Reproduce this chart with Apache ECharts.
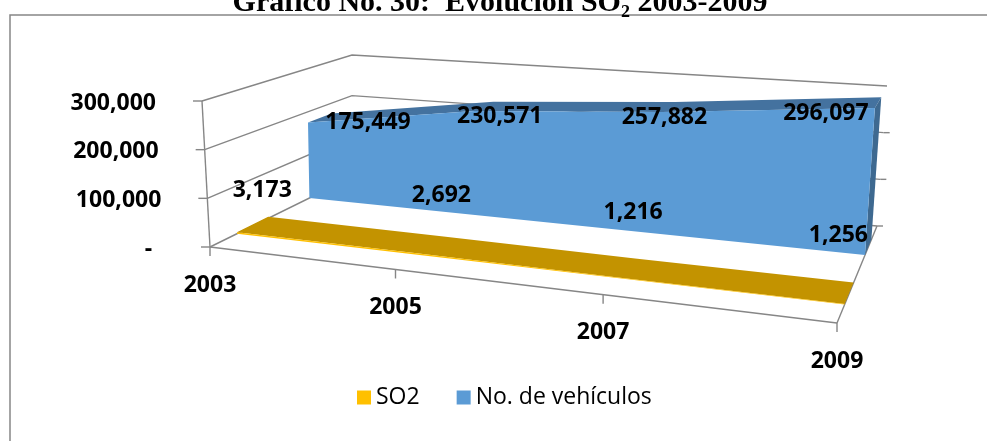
<!DOCTYPE html>
<html>
<head>
<meta charset="utf-8">
<script src="https://cdn.jsdelivr.net/npm/echarts@6/dist/echarts.min.js"></script>
<style>
html, body { margin: 0; padding: 0; background: #fff; }
#chart { width: 987px; height: 441px; }
</style>
</head>
<body>
<div id="chart"></div>
<script>
const years = ['2003', '2005', '2007', '2009'];
const so2 = [3173, 2692, 1216, 1256];
const vehiculos = [175449, 230571, 257882, 296097];
const yTicks = [0, 100000, 200000, 300000];

// screen corners of the 3d box, key = x y z (0 = left/bottom/front)
const box = {
  '000': [210, 247], '100': [837, 323], '001': [352, 177], '101': [877, 226],
  '010': [202, 101], '110': [847, 153], '011': [352, 55], '111': [887, 86]
};
const persp = 1.19;
const gridColor = '#868686';
const numFont = 'bold 23px "Open Sans"';

// depth rows of the two series
const rowSO2 = [0.19, 0.41];
const rowVeh = [0.70, 0.86];
// excel puts its 3d labels a bit off the points
const nudgeSO2 = [[-6, -28], [0, -42], [-2, -47], [-15, -48]];
const nudgeVeh = [[60, 0], [25, 5], [2, 5], [-49, 5]];

function lerp(a, b, k) {
  return [a[0] + (b[0] - a[0]) * k, a[1] + (b[1] - a[1]) * k];
}

function project(u, v, z) {
  const t = u / (u + persp * (1 - u));
  const f = lerp(lerp(box['000'], box['100'], t), lerp(box['010'], box['110'], t), v);
  const b = lerp(lerp(box['001'], box['101'], t), lerp(box['011'], box['111'], t), v);
  return lerp(f, b, z);
}

// data value -> hidden cartesian pixel -> point in the 3d box
function pt(api, params, cat, val, z) {
  const p = api.coord([cat, val]);
  const cs = params.coordSys;
  const u = (p[0] - cs.x) / cs.width;
  const v = (cs.y + cs.height - p[1]) / cs.height;
  return project(u, v, z);
}

function line(a, b, w) {
  return { type: 'line', shape: { x1: a[0], y1: a[1], x2: b[0], y2: b[1] },
    style: { stroke: gridColor, lineWidth: w || 1.4 } };
}

function areaRenderer(values, row, front, top, side, nudge) {
  return function (params, api) {
    const i = params.dataIndex;
    const last = values.length - 1;
    const v = api.value(1);
    const kids = [];
    if (i === 0) {
      const frontPts = [pt(api, params, 0, 0, row[0])];
      const topFront = [], topBack = [];
      values.forEach((w, k) => {
        topFront.push(pt(api, params, k, w, row[0]));
        topBack.unshift(pt(api, params, k, w, row[1]));
      });
      frontPts.push(...topFront, pt(api, params, last, 0, row[0]));
      kids.push({ type: 'polygon', z2: 1, shape: { points: topFront.concat(topBack) },
        style: { fill: top } });
      kids.push({ type: 'polygon', z2: 3, shape: { points: frontPts },
        style: { fill: front } });
    }
    if (i === last) {
      const c0 = pt(api, params, i, 0, row[0]), c1 = pt(api, params, i, v, row[0]);
      const d0 = pt(api, params, i, 0, row[1]), d1 = pt(api, params, i, v, row[1]);
      kids.push({ type: 'polygon', z2: 2, shape: { points: [c0, c1, d1, d0] },
        style: { fill: side } });
    }
    const anchor = row === rowSO2 ? pt(api, params, i, 0, row[1]) : pt(api, params, i, v, row[0]);
    kids.push({ type: 'text', z2: 50, x: anchor[0] + nudge[i][0], y: anchor[1] + nudge[i][1],
      style: { text: v.toLocaleString('en-US'), font: numFont, fill: '#000',
        align: 'center', verticalAlign: 'middle' } });
    return { type: 'group', children: kids };
  };
}

const chart = echarts.init(document.getElementById('chart'));

chart.setOption({
  animation: false,
  grid: { left: 0, top: 0, width: 300, height: 300, show: false },
  xAxis: { type: 'category', data: years, boundaryGap: false, show: false },
  yAxis: { type: 'value', min: 0, max: 300000, interval: 100000, show: false },
  legend: {
    data: ['SO2', 'No. de vehículos'],
    left: 357, top: 386, padding: 0,
    icon: 'rect', itemWidth: 14, itemHeight: 14, itemGap: 37,
    textStyle: { fontFamily: 'Open Sans', fontSize: 23, color: '#000' }
  },
  graphic: [
    { type: 'rect', z: 0, shape: { x: 10, y: 15, width: 1000, height: 500 },
      style: { fill: null, stroke: '#868686', lineWidth: 1.5 } },
    { type: 'text', x: 500, y: 18,
      style: { text: 'Gráfico No. 30:  Evolución SO₂ 2003-2009',
        font: 'bold 30px "Liberation Serif"', fill: '#000',
        align: 'center', verticalAlign: 'bottom' } }
  ],
  series: [
    {
      type: 'custom', name: 'walls', z: 1, silent: true, clip: false,
      data: yTicks.map(v => [0, v]),
      renderItem: function (params, api) {
        const v = api.value(1);
        const last = years.length - 1;
        const kids = [];
        const f = pt(api, params, 0, v, 0);
        const bl = pt(api, params, 0, v, 1);
        const br = pt(api, params, last, v, 1);
        kids.push({ type: 'polyline', shape: { points: [f, bl, br] },
          style: { stroke: gridColor, lineWidth: 1.4, fill: null } });
        kids.push(line([f[0] - 9, f[1]], f));
        if (v < yTicks[yTicks.length - 1]) kids.push(line(br, [br[0] + 6, br[1]]));
        kids.push({ type: 'text', x: f[0] - 46, y: f[1] + 2,
          style: { text: v === 0 ? '-  ' : v.toLocaleString('en-US'), font: numFont,
            fill: '#000', align: 'right', verticalAlign: 'middle' } });
        if (params.dataIndex === 0) {
          const top = yTicks[yTicks.length - 1];
          kids.push(line(pt(api, params, 0, 0, 0), pt(api, params, 0, top, 0)));
          kids.push(line(pt(api, params, 0, 0, 0), pt(api, params, last, 0, 0)));
          kids.push(line(pt(api, params, last, 0, 0), pt(api, params, last, 0, 1)));
        }
        return { type: 'group', children: kids };
      }
    },
    {
      type: 'custom', name: 'years', z: 1, silent: true, clip: false,
      data: years.map((y, i) => [i, 0]),
      renderItem: function (params, api) {
        const i = params.dataIndex;
        const p = pt(api, params, i, 0, 0);
        return { type: 'group', children: [
          line(p, [p[0], p[1] + 9]),
          { type: 'text', x: p[0], y: p[1] + 38,
            style: { text: years[i], font: numFont, fill: '#000',
              align: 'center', verticalAlign: 'middle' } }
        ] };
      }
    },
    {
      type: 'custom', name: 'No. de vehículos', z: 3, clip: false,
      itemStyle: { color: '#5B9BD5' },
      data: vehiculos.map((v, i) => [i, v]),
      renderItem: areaRenderer(vehiculos, rowVeh, '#5B9BD5', '#44729F', '#3E6990', nudgeVeh)
    },
    {
      type: 'custom', name: 'SO2', z: 4, clip: false,
      itemStyle: { color: '#FFC000' },
      data: so2.map((v, i) => [i, v]),
      renderItem: areaRenderer(so2, rowSO2, '#FFC000', '#C39300', '#A87F00', nudgeSO2)
    }
  ]
});
</script>
</body>
</html>
